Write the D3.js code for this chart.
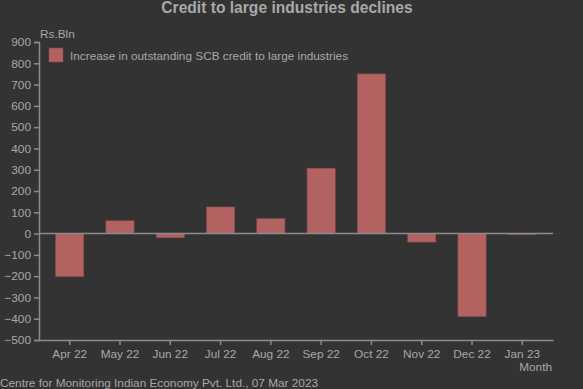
<!DOCTYPE html>
<html>
<head>
<meta charset="utf-8">
<script src="https://cdn.jsdelivr.net/npm/d3@7"></script>
<style>
	body { margin: 0; background: #333333; }
	text { font-family: 'Liberation Sans', Arial, sans-serif; }
</style>
</head>
<body>
<svg width="583" height="389"></svg>
<script>
const months = ['Apr 22', 'May 22', 'Jun 22', 'Jul 22', 'Aug 22', 'Sep 22', 'Oct 22', 'Nov 22', 'Dec 22', 'Jan 23'];
const values = [-202, 60, -20, 125, 70, 307, 750, -40, -390, -5];
const yTicks = [900, 800, 700, 600, 500, 400, 300, 200, 100, 0, -100, -200, -300, -400, -500];
const seriesName = 'Increase in outstanding SCB credit to large industries';

const svg = d3.select('svg');
const textCol = '#a8a8a8';
const axisCol = '#8c8c8c';
const barCol = '#b36262';
const fs = 11.8;

svg.append('rect').attr('width', 583).attr('height', 389).attr('fill', '#333333');

const x = d3.scaleBand().domain(months).range([39, 553]).paddingInner(0.44).paddingOuter(0.33);
const y = d3.scaleLinear().domain([-500, 900]).range([340, 42]);

// title
svg.append('text')
	.attr('x', 287).attr('y', 13)
	.attr('text-anchor', 'middle')
	.attr('font-size', 15.6).attr('font-weight', 'bold')
	.attr('fill', textCol)
	.text('Credit to large industries declines');

// bars
svg.append('g').selectAll('rect')
	.data(values)
	.join('rect')
	.attr('x', (d, i) => x(months[i]))
	.attr('width', x.bandwidth())
	.attr('y', d => y(Math.max(0, d)))
	.attr('height', d => Math.abs(y(d) - y(0)))
	.attr('fill', barCol)
	.attr('stroke', '#8a4c4c')
	.attr('stroke-width', 0.6);

// zero line
svg.append('line')
	.attr('x1', 39).attr('x2', 553)
	.attr('y1', y(0)).attr('y2', y(0))
	.attr('stroke', axisCol).attr('stroke-width', 1.5);

// y axis
const yAxis = svg.append('g')
	.attr('transform', 'translate(39,0)')
	.call(d3.axisLeft(y).tickValues(yTicks).tickSize(5).tickPadding(3));
yAxis.select('.domain').attr('stroke', axisCol).attr('stroke-width', 1.5);
yAxis.selectAll('.tick line').attr('stroke', axisCol).attr('stroke-width', 1.5);
yAxis.selectAll('.tick text').attr('fill', textCol).attr('font-size', fs);

// x axis
const xAxis = svg.append('g')
	.attr('transform', 'translate(0,340)')
	.call(d3.axisBottom(x).tickSize(5).tickPadding(5).tickSizeOuter(0));
xAxis.select('.domain').attr('stroke', axisCol).attr('stroke-width', 1.5);
xAxis.selectAll('.tick line').attr('stroke', axisCol).attr('stroke-width', 1.5);
xAxis.selectAll('.tick text').attr('fill', textCol).attr('font-size', fs);

// axis labels
svg.append('text')
	.attr('x', 40).attr('y', 38)
	.attr('font-size', fs).attr('fill', textCol)
	.text('Rs.Bln');
svg.append('text')
	.attr('x', 552).attr('y', 371)
	.attr('text-anchor', 'end')
	.attr('font-size', fs).attr('fill', textCol)
	.text('Month');

// legend
svg.append('rect')
	.attr('x', 49).attr('y', 48).attr('width', 14).attr('height', 14)
	.attr('fill', barCol).attr('stroke', '#8a4c4c').attr('stroke-width', 0.6);
svg.append('text')
	.attr('x', 70).attr('y', 60)
	.attr('font-size', fs).attr('fill', textCol)
	.text(seriesName);

// source
svg.append('text')
	.attr('x', 0).attr('y', 387)
	.attr('font-size', fs).attr('fill', textCol)
	.text('Centre for Monitoring Indian Economy Pvt. Ltd., 07 Mar 2023');
</script>
</body>
</html>
